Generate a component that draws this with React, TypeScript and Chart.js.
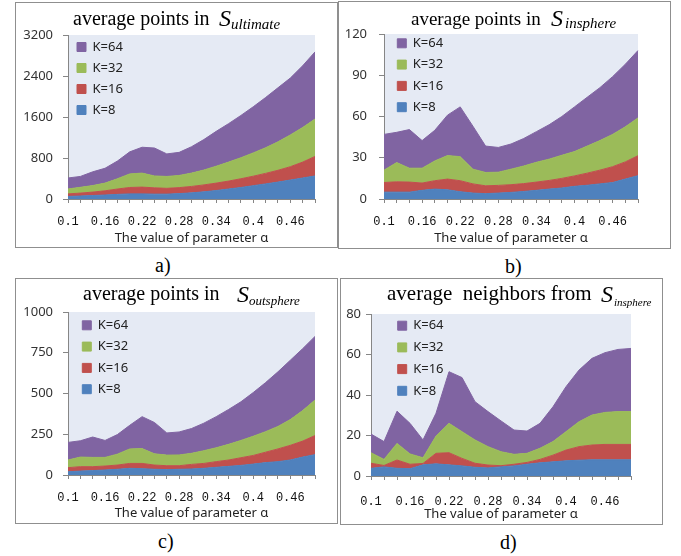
import React, { useEffect, useRef } from 'react';
import { Chart, registerables } from 'chart.js';

Chart.register(...registerables);

// ---------- data ----------
const ALPHA = ['0.1', '0.12', '0.14', '0.16', '0.18', '0.2', '0.22', '0.24', '0.26', '0.28', '0.3', '0.32', '0.34', '0.36', '0.38', '0.4', '0.42', '0.44', '0.46', '0.48', '0.5'];
const SHOWN_TICKS = ['0.1', '0.16', '0.22', '0.28', '0.34', '0.4', '0.46'];
const SERIES_NAMES = ['K=8', 'K=16', 'K=32', 'K=64'];
const SERIES_COLORS = ['#4F81BD', '#C0504D', '#9BBB59', '#8064A2'];
const X_TITLE = 'The value of parameter α';

// a) average points in S_ultimate
const ULTIMATE_K8 = [50, 58, 68, 78, 90, 100, 100, 95, 95, 105, 120, 140, 165, 195, 225, 260, 295, 330, 370, 410, 450];
const ULTIMATE_K16 = [50, 57, 67, 82, 105, 125, 132, 123, 113, 117, 125, 135, 145, 155, 170, 185, 205, 230, 260, 310, 380];
const ULTIMATE_K32 = [96, 113, 127, 150, 200, 265, 273, 232, 232, 238, 260, 290, 330, 370, 410, 455, 500, 555, 620, 675, 730];
const ULTIMATE_K64 = [214, 212, 268, 290, 345, 430, 505, 545, 440, 450, 515, 595, 680, 750, 825, 900, 980, 1055, 1110, 1205, 1310];

// b) average points in S_insphere
const INSPHERE_K8 = [5, 5, 5, 6.3, 7.2, 6.7, 5.3, 4.3, 3.9, 4.3, 4.8, 5.5, 6.3, 7.2, 8, 9.2, 10, 11, 12, 14.5, 17];
const INSPHERE_K16 = [7, 7.5, 7.3, 5.3, 6.1, 7.8, 8, 6.7, 5.7, 5.6, 5.6, 5.7, 6, 6.3, 7, 7.6, 8.8, 10, 11.5, 12.5, 14.5];
const INSPHERE_K32 = [9, 14, 10.1, 10.8, 14.4, 17.1, 17.5, 10.7, 9.7, 9.6, 11.3, 12.8, 14.4, 15.5, 16.8, 17.7, 19.7, 21.5, 23.5, 25.5, 27.5];
const INSPHERE_K64 = [26, 22, 28.1, 20.1, 22.3, 29.4, 36.2, 31.3, 19.2, 18, 18.3, 20, 22.3, 25, 28.2, 32.5, 35.5, 38.5, 42, 45.5, 49];

// c) average points in S_outsphere
const OUTSPHERE_K8 = [20, 24, 27, 31, 35, 41, 39, 35, 33, 35, 37, 41, 47, 53, 59, 67, 76, 82, 92, 110, 125];
const OUTSPHERE_K16 = [25, 27, 24, 24, 26, 30, 32, 26, 24, 22, 28, 30, 35, 39, 47, 53, 64, 78, 90, 98, 117];
const OUTSPHERE_K32 = [47, 59, 57, 53, 67, 89, 91, 69, 65, 66, 68, 78, 85, 96, 106, 118, 126, 138, 158, 187, 218];
const OUTSPHERE_K64 = [108, 100, 125, 104, 120, 145, 196, 192, 136, 141, 152, 169, 191, 214, 237, 268, 301, 335, 364, 380, 390];

// d) average neighbors from S_insphere
const NEIGHBORS_K8 = [3.8, 4.5, 3.8, 3.6, 5.5, 6, 5.5, 5, 4.3, 4, 4.5, 5, 5.8, 6.5, 7, 7.5, 7.8, 8, 8, 8, 8];
const NEIGHBORS_K16 = [2.5, 0.7, 4.1, 2.2, 0.7, 5.2, 6, 3.7, 2, 1.4, 0.6, 0.8, 0.9, 1.7, 3.3, 5.3, 6.7, 7.3, 7.6, 7.6, 7.6];
const NEIGHBORS_K32 = [5.2, 3, 8.2, 5.1, 2.8, 8.5, 14.5, 13.2, 11.5, 9.1, 6.9, 4.9, 4.5, 5.5, 6.7, 9.1, 12.3, 14.8, 15.8, 16.2, 16.2];
const NEIGHBORS_K64 = [9.2, 8.8, 15.9, 15.1, 8.8, 11.3, 25.5, 26.7, 18.9, 17.3, 15.2, 12, 11, 12.3, 17.2, 22.2, 25.5, 28, 29.5, 30.7, 31.2];

// ---------- layout ----------
const SANS = '"Noto Sans", "Open Sans", sans-serif';
const MONO = '"Liberation Mono", "DejaVu Sans Mono", monospace';
const SERIF = '"Liberation Serif", "Times New Roman", serif';
const AXIS_COLOR = '#868686';
const PLOT_BG = '#E5EAF4';
const TEXT_COLOR = '#222';

const PANELS = [
  {
    key: 'a', series: [ULTIMATE_K8, ULTIMATE_K16, ULTIMATE_K32, ULTIMATE_K64], yMax: 3200, yStep: 800,
    box: { x: 15, y: 2, w: 323, h: 246 }, area: { l: 68, t: 35, r: 315, b: 199 },
    xPad: 12, yPad: 10, titleCenter: 238, legend: { dx: 1, dy: -2.5, pad: 8 },
  },
  {
    key: 'b', series: [INSPHERE_K8, INSPHERE_K16, INSPHERE_K32, INSPHERE_K64], yMax: 120, yStep: 30,
    box: { x: 338, y: 1, w: 333, h: 248 }, area: { l: 384, t: 34, r: 638, b: 199 },
    xPad: 12, yPad: 12, titleCenter: 238, legend: { dx: 5, dy: -5.5, pad: 8.3 },
  },
  {
    key: 'c', series: [OUTSPHERE_K8, OUTSPHERE_K16, OUTSPHERE_K32, OUTSPHERE_K64], yMax: 1000, yStep: 250,
    box: { x: 15, y: 278, w: 323, h: 246 }, area: { l: 68, t: 312, r: 315, b: 475 },
    xPad: 11.5, yPad: 10, titleCenter: 513, legend: { dx: 6, dy: -1.5, pad: 8.3 },
  },
  {
    key: 'd', series: [NEIGHBORS_K8, NEIGHBORS_K16, NEIGHBORS_K32, NEIGHBORS_K64], yMax: 80, yStep: 20,
    box: { x: 340, y: 278, w: 323, h: 247 }, area: { l: 371, t: 314, r: 631, b: 476 },
    xPad: 15, yPad: 5, titleCenter: 514, legend: { dx: 18, dy: -3.5, pad: 8.7 },
  },
];

const TEXTS = [
  { t: 'average points in', x: 73, b: 25, s: 20, i: false },
  { t: 'S', x: 219, b: 26, s: 24, i: true },
  { t: 'ultimate', x: 231, b: 30, s: 15, i: true },
  { t: 'average points in', x: 411, b: 25, s: 19, i: false },
  { t: 'S', x: 551, b: 26, s: 24, i: true },
  { t: 'insphere', x: 565, b: 29, s: 15, i: true },
  { t: 'average points in', x: 83, b: 300, s: 20, i: false },
  { t: 'S', x: 237, b: 302, s: 24, i: true },
  { t: 'outsphere', x: 249, b: 305, s: 13, i: true },
  { t: 'average  neighbors from', x: 387, b: 301, s: 21, i: false },
  { t: 'S', x: 601, b: 302, s: 24, i: true },
  { t: 'insphere', x: 614, b: 306, s: 11, i: true },
  { t: 'a)', x: 155, b: 272, s: 20, i: false },
  { t: 'b)', x: 505, b: 273, s: 20, i: false },
  { t: 'c)', x: 158, b: 548, s: 20, i: false },
  { t: 'd)', x: 500, b: 549, s: 20, i: false },
];

const decoPlugin = {
  id: 'panelDeco',
  beforeDraw(chart: any, _args: any, opts: any) {
    const { ctx, chartArea } = chart;
    if (!chartArea) return;
    ctx.save();
    ctx.fillStyle = opts.color;
    ctx.fillRect(chartArea.left, chartArea.top, chartArea.width, chartArea.height);
    ctx.restore();
  },
  afterLayout(chart: any, _args: any, opts: any) {
    const lg = chart.legend;
    const ca = chart.chartArea;
    if (lg && ca) {
      lg.left = ca.left + opts.dx;
      lg.top = ca.top + opts.dy;
      lg.right = lg.left + lg.width;
      lg.bottom = lg.top + lg.height;
    }
  },
};

function Panel({ p }: { p: any }) {
  const ref = useRef<HTMLCanvasElement | null>(null);
  useEffect(() => {
    const { box, area } = p;
    const titleLH = 13 * 1.2;
    const chart = new Chart(ref.current as HTMLCanvasElement, {
      type: 'line',
      data: {
        labels: ALPHA,
        datasets: p.series.map((vals: number[], i: number) => ({
          label: SERIES_NAMES[i],
          data: vals,
          backgroundColor: SERIES_COLORS[i],
          borderColor: SERIES_COLORS[i],
          borderWidth: 1,
          pointRadius: 0,
          pointHoverRadius: 0,
          tension: 0,
          fill: i === 0 ? 'origin' : '-1',
        })),
      },
      options: {
        animation: false,
        responsive: false,
        maintainAspectRatio: false,
        events: [],
        layout: {
          padding: { left: 0, bottom: 0, top: area.t - box.y, right: box.x + box.w - area.r },
        },
        plugins: {
          legend: {
            position: 'chartArea',
            align: 'start',
            reverse: true,
            labels: {
              boxWidth: 9,
              boxHeight: 9,
              padding: p.legend.pad,
              color: TEXT_COLOR,
              font: { family: SANS, size: 13 },
            },
          },
          tooltip: { enabled: false },
          title: { display: false },
          panelDeco: { color: PLOT_BG, dx: p.legend.dx, dy: p.legend.dy },
        } as any,
        scales: {
          x: {
            type: 'category',
            offset: false,
            grid: { display: true, drawOnChartArea: false, drawTicks: true, tickLength: 4, color: AXIS_COLOR, offset: false },
            border: { display: true, color: AXIS_COLOR },
            ticks: {
              autoSkip: false,
              maxRotation: 0,
              minRotation: 0,
              padding: p.xPad,
              color: '#111',
              font: { family: MONO, size: 12 },
              callback: (_v: any, idx: number) => (SHOWN_TICKS.includes(ALPHA[idx]) ? ALPHA[idx] : ''),
            },
            title: {
              display: true,
              text: X_TITLE,
              color: TEXT_COLOR,
              font: { family: SANS, size: 13 },
              padding: { top: 0, bottom: Math.max(0, box.y + box.h - p.titleCenter - titleLH / 2) },
            },
            afterFit: (s: any) => { s.height = box.y + box.h - area.b; },
          },
          y: {
            stacked: true,
            min: 0,
            max: p.yMax,
            grid: { display: true, drawOnChartArea: false, drawTicks: true, tickLength: 5, color: AXIS_COLOR },
            border: { display: true, color: AXIS_COLOR },
            ticks: {
              stepSize: p.yStep,
              padding: p.yPad,
              color: '#333',
              font: { family: SANS, size: 13 },
              callback: (v: any) => String(v),
            },
            afterFit: (s: any) => { s.width = area.l - box.x; },
          },
        } as any,
      },
      plugins: [decoPlugin as any],
    });
    return () => chart.destroy();
  }, []);
  const { box } = p;
  return (
    <>
      <div style={{ position: 'absolute', left: box.x, top: box.y, width: box.w, height: box.h, border: '1px solid #8f8f8f', boxSizing: 'border-box' }} />
      <canvas ref={ref} width={box.w} height={box.h} style={{ position: 'absolute', left: box.x, top: box.y, width: box.w, height: box.h }} />
    </>
  );
}

export default function App() {
  return (
    <div style={{ position: 'fixed', left: 0, top: 0, width: 681, height: 556, background: '#fff', overflow: 'hidden' }}>
      {PANELS.map((p) => <Panel key={p.key} p={p} />)}
      {TEXTS.map((t, k) => (
        <div
          key={k}
          style={{
            position: 'absolute',
            left: t.x,
            top: t.b - 0.8375 * t.s,
            fontFamily: SERIF,
            fontSize: t.s,
            lineHeight: 1,
            fontStyle: t.i ? 'italic' : 'normal',
            whiteSpace: 'pre',
            color: '#000',
          }}
        >
          {t.t}
        </div>
      ))}
    </div>
  );
}
